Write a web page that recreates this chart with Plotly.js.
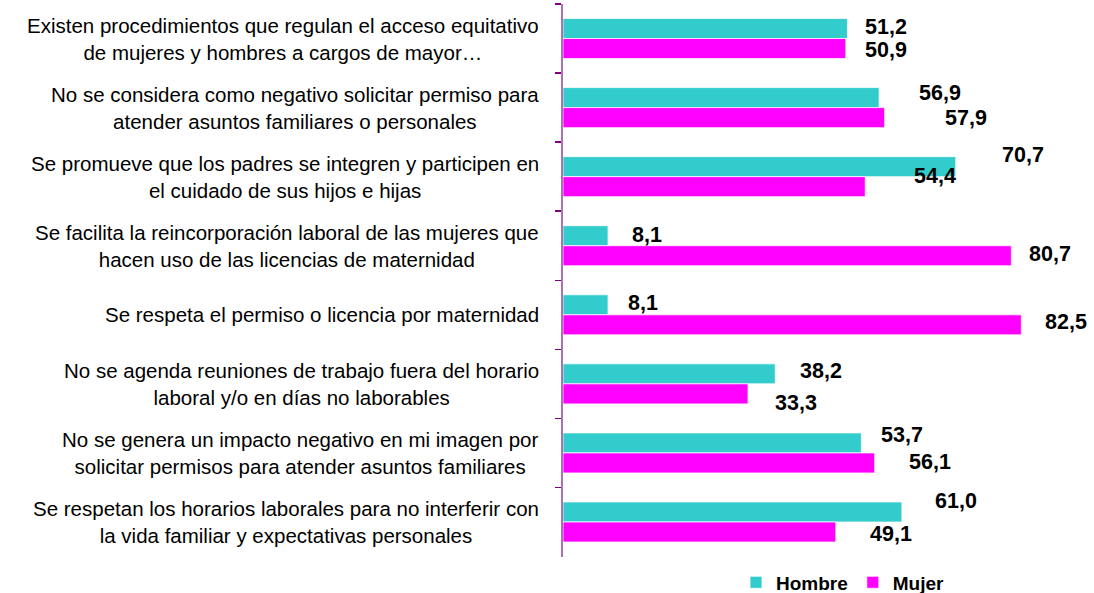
<!DOCTYPE html>
<html>
<head>
<meta charset="utf-8">
<script src="https://cdn.plot.ly/plotly-3.0.1.min.js"></script>
<style>
  html, body { margin: 0; padding: 0; background: #fff; }
  #chart { width: 1094px; height: 593px; }
</style>
</head>
<body>
<div id="chart"></div>
<script>
const categories = [
  "Existen procedimientos que regulan el acceso equitativo<br>de mujeres y hombres a cargos de mayor…",
  "No se considera como negativo solicitar permiso para<br>atender asuntos familiares o personales",
  "Se promueve que los padres se integren y participen en<br>el cuidado de sus hijos e hijas",
  "Se facilita la reincorporación laboral de las mujeres que<br>hacen uso de las licencias de maternidad",
  "Se respeta el permiso o licencia por maternidad",
  "No se agenda reuniones de trabajo fuera del horario<br>laboral y/o en días no laborables",
  "No se genera un impacto negativo en mi imagen por<br>solicitar permisos para atender asuntos familiares",
  "Se respetan los horarios laborales para no interferir con<br>la vida familiar y expectativas personales"
];
const hombre = [51.2, 56.9, 70.7, 8.1, 8.1, 38.2, 53.7, 61.0];
const mujer  = [50.9, 57.9, 54.4, 80.7, 82.5, 33.3, 56.1, 49.1];
const seriesNames = ["Hombre", "Mujer"];

// label placement (pixel shifts from bar end / category centre), style only
const hShiftX = [16, 38, 44, 22, 18, 23, 18, 31];
const hShiftY = [12, 15, 22, 11, 12, 13, 18, 21];
const mShiftX = [17, 58, 47, 16, 22, 25, 32, 32];
const mShiftY = [-11, -10, 1, -8, -7, -19, -9, -12];

const TEAL = "#33CCCC";
const MAGENTA = "#FF00FF";
const fmt = v => v.toFixed(1).replace(".", ",");
const FONT = "Liberation Sans, Arial, sans-serif";

const traces = [
  {
    type: "bar", orientation: "h", name: seriesNames[0],
    y: categories, x: hombre,
    marker: { color: TEAL, line: { color: "rgba(255,255,255,0.75)", width: 1 } },
    hoverinfo: "x"
  },
  {
    type: "bar", orientation: "h", name: seriesNames[1],
    y: categories, x: mujer,
    marker: { color: MAGENTA, line: { color: "rgba(255,255,255,0.75)", width: 1 } },
    hoverinfo: "x"
  }
];

const annotations = [];
categories.forEach((c, i) => {
  annotations.push({
    xref: "paper", yref: "y", x: 0, y: c, xanchor: "right", yanchor: "middle",
    xshift: -22, text: c, showarrow: false, align: "center",
    font: { family: FONT, size: 20.5, color: "#000" }
  });
  annotations.push({
    xref: "x", yref: "y", x: hombre[i], y: c, xanchor: "left", yanchor: "middle",
    xshift: hShiftX[i], yshift: hShiftY[i], text: "<b>" + fmt(hombre[i]) + "</b>", showarrow: false,
    font: { family: FONT, size: 21.5, color: "#000" }
  });
  annotations.push({
    xref: "x", yref: "y", x: mujer[i], y: c, xanchor: "left", yanchor: "middle",
    xshift: mShiftX[i], yshift: mShiftY[i], text: "<b>" + fmt(mujer[i]) + "</b>", showarrow: false,
    font: { family: FONT, size: 21.5, color: "#000" }
  });
});

const layout = {
  width: 1094, height: 593,
  margin: { l: 563, r: 31, t: 3.5, b: 35.5, autoexpand: false },
  paper_bgcolor: "#fff", plot_bgcolor: "#fff",
  barmode: "group", bargap: 0.42, bargroupgap: 0,
  showlegend: true,
  legend: {
    orientation: "h", x: 0.56, xanchor: "center", y: -0.046, yanchor: "middle",
    font: { family: FONT, size: 19, color: "#000", weight: "bold" },
    itemwidth: 30, tracegroupgap: 0
  },
  xaxis: {
    range: [0, 90], showgrid: false, zeroline: false, showline: false,
    showticklabels: false, ticks: "", fixedrange: true
  },
  yaxis: {
    type: "category", autorange: "reversed", showgrid: false, zeroline: false,
    showline: true, linecolor: "#A873B5", linewidth: 2,
    ticks: "outside", tickson: "boundaries", ticklen: 6, tickcolor: "#800080", tickwidth: 1.5,
    showticklabels: false, fixedrange: true
  },
  annotations: annotations
};

Plotly.newPlot("chart", traces, layout, { displayModeBar: false, staticPlot: true });
</script>
</body>
</html>
